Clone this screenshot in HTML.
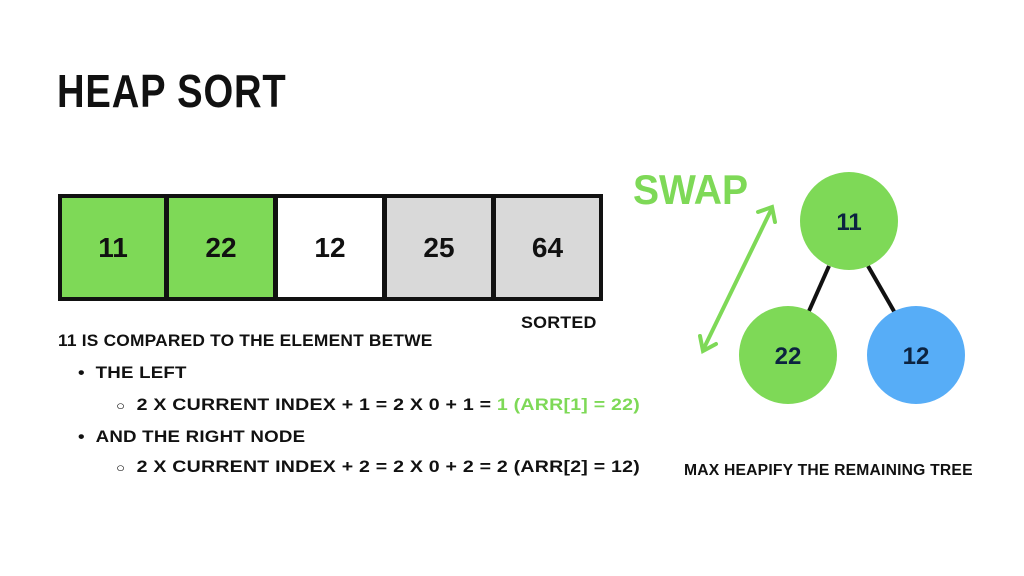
<!DOCTYPE html>
<html><head><style>
body{margin:0;width:1024px;height:576px;background:#fff;position:relative;overflow:hidden;font-family:"Liberation Sans",sans-serif;font-weight:bold;color:#111}
.a{position:absolute;white-space:nowrap}
.t{font-size:17px;letter-spacing:0.2px;transform:scaleX(1.1);transform-origin:left}
.cell{position:absolute;top:194px;height:107px;box-sizing:border-box;border:4px solid #111;display:flex;align-items:center;justify-content:center;font-size:28px;font-weight:bold}
</style></head><body>
<div class="a" style="left:57px;top:64px;font-size:46px;letter-spacing:1px;transform:scaleX(0.83);transform-origin:left">HEAP SORT</div>
<div class="cell" style="left:58px;width:110px;background:#7ed957">11</div>
<div class="cell" style="left:165px;width:112px;background:#7ed957">22</div>
<div class="cell" style="left:274px;width:112px;background:#fff">12</div>
<div class="cell" style="left:383px;width:112px;background:#d9d9d9">25</div>
<div class="cell" style="left:492px;width:111px;background:#d9d9d9">64</div>
<div class="a t" style="left:521px;top:313px;transform:scaleX(1.05)">SORTED</div>
<div class="a t" style="left:58px;top:331px;transform:scaleX(1.02)">11 IS COMPARED TO THE ELEMENT BETWE</div>
<div class="a t" style="left:78px;top:363px">•&nbsp;&nbsp;THE LEFT</div>
<div class="a t" style="left:116px;top:395px;transform:scaleX(1.15)"><span style="font-weight:normal;font-size:13px">○</span>&nbsp; 2 X CURRENT INDEX + 1 = 2 X 0 + 1 = <span style="color:#7ed957">1 (ARR[1] = 22)</span></div>
<div class="a t" style="left:78px;top:427px">•&nbsp;&nbsp;AND THE RIGHT NODE</div>
<div class="a t" style="left:116px;top:457px;transform:scaleX(1.15)"><span style="font-weight:normal;font-size:13px">○</span>&nbsp; 2 X CURRENT INDEX + 2 = 2 X 0 + 2 = 2 (ARR[2] = 12)</div>
<div class="a" style="left:633px;top:166px;font-size:42px;color:#7ed957;transform:scaleX(0.93);transform-origin:left">SWAP</div>
<div class="a t" style="left:684px;top:462px;font-size:16px;transform:scaleX(0.98)">MAX HEAPIFY THE REMAINING TREE</div>
<svg class="a" style="left:0;top:0" width="1024" height="576">
<line x1="829" y1="266" x2="809" y2="311" stroke="#111" stroke-width="4"/>
<line x1="868" y1="266" x2="895" y2="313" stroke="#111" stroke-width="4"/>
<circle cx="849" cy="221" r="49" fill="#7ed957"/>
<circle cx="788" cy="355" r="49" fill="#7ed957"/>
<circle cx="916" cy="355" r="49" fill="#57adf7"/>
<g stroke="#7ed957" stroke-width="4" fill="none" stroke-linecap="round">
<line x1="772" y1="208" x2="703" y2="350"/>
<polyline points="758,212 772,207 775,222"/>
<polyline points="700,336 703,351 716,344"/>
</g>
<g font-family="Liberation Sans" font-weight="bold" font-size="24" fill="#0c2340" text-anchor="middle">
<text x="849" y="230">11</text><text x="788" y="364">22</text><text x="916" y="364">12</text>
</g>
</svg>
</body></html>
